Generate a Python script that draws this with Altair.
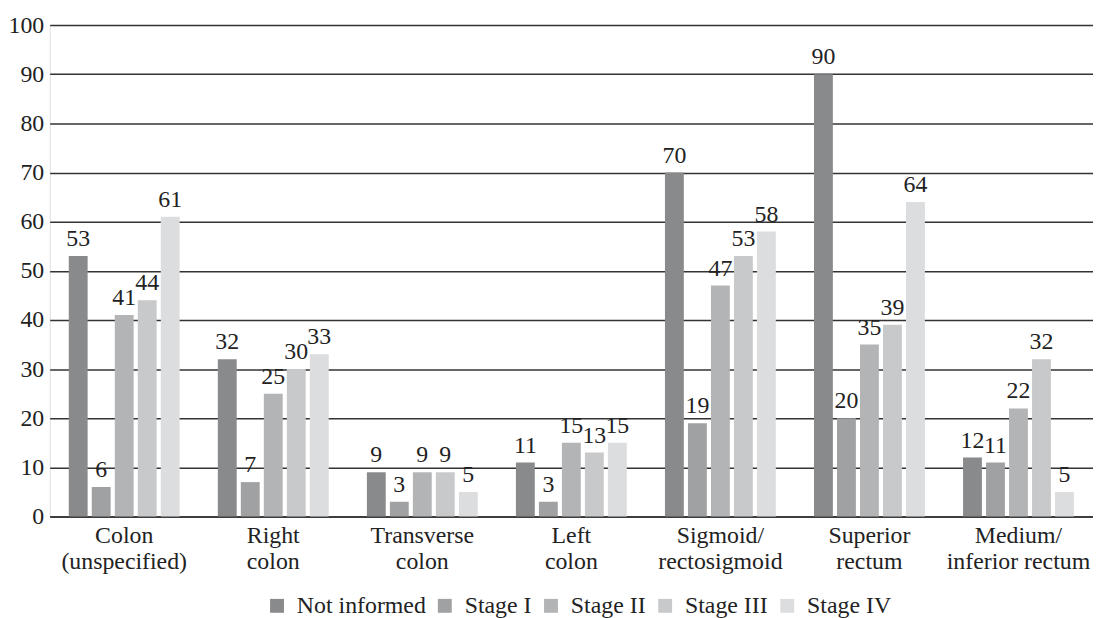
import altair as alt
import pandas as pd

sites = ["Colon\n(unspecified)", "Right\ncolon", "Transverse\ncolon", "Left\ncolon",
         "Sigmoid/\nrectosigmoid", "Superior\nrectum", "Medium/\ninferior rectum"]
stages = ["Not informed", "Stage I", "Stage II", "Stage III", "Stage IV"]
not_informed = [53, 32, 9, 11, 70, 90, 12]
stage_1 = [6, 7, 3, 3, 19, 20, 11]
stage_2 = [41, 25, 9, 15, 47, 35, 22]
stage_3 = [44, 30, 9, 13, 53, 39, 32]
stage_4 = [61, 33, 5, 15, 58, 64, 5]
colors = ["#898a8c", "#a0a1a3", "#b2b4b6", "#c8c9cb", "#dcdddf"]

series = [not_informed, stage_1, stage_2, stage_3, stage_4]
rows = []
for st, vals in zip(stages, series):
    for s, v in zip(sites, vals):
        rows.append({"site": s, "stage": st, "value": v})
df = pd.DataFrame(rows)

font = "Liberation Serif"
fs = 24

base = alt.Chart(df).encode(
    x=alt.X("site:N", sort=sites, title=None,
            scale=alt.Scale(paddingInner=0, paddingOuter=0),
            axis=alt.Axis(labelExpr="split(datum.label, '\\n')", labelAngle=0,
                          labelFont=font, labelFontSize=fs, labelColor="#222",
                          labelPadding=7, labelLineHeight=26, ticks=False,
                          domainColor="#333", domainWidth=1.5, grid=False,
                          labelBaseline="top")),
    xOffset=alt.XOffset("stage:N", sort=stages,
                        scale=alt.Scale(paddingInner=0.18, paddingOuter=0.83)),
    y=alt.Y("value:Q", title=None,
            scale=alt.Scale(domain=[0, 100], nice=False),
            axis=alt.Axis(values=list(range(0, 101, 10)), labelFont=font,
                          labelFontSize=fs, labelColor="#222", labelPadding=6,
                          ticks=False, domain=False, gridColor="#333",
                          gridWidth=1.5)),
)

bars = base.mark_bar().encode(
    color=alt.Color("stage:N", sort=stages,
                    scale=alt.Scale(domain=stages, range=colors),
                    legend=alt.Legend(title=None, orient="none", direction="horizontal",
                                      legendX=217, legendY=573, symbolType="square",
                                      symbolSize=196, symbolStrokeWidth=0,
                                      labelFont=font, labelFontSize=fs,
                                      labelColor="#222", columnPadding=7,
                                      labelOffset=8))
)

labels = base.mark_text(baseline="alphabetic", dy=-10, font=font, fontSize=fs,
                        color="#222").encode(text="value:Q")

chart = alt.layer(bars, labels).properties(
    width=1051, height=495,
    autosize=alt.AutoSizeParams(type="none"),
    padding={"left": 42, "top": 15, "right": 0, "bottom": 100},
).configure_view(stroke=None).configure(background="white")

chart.save("out.html", embed_options={"renderer": "svg", "actions": False})
